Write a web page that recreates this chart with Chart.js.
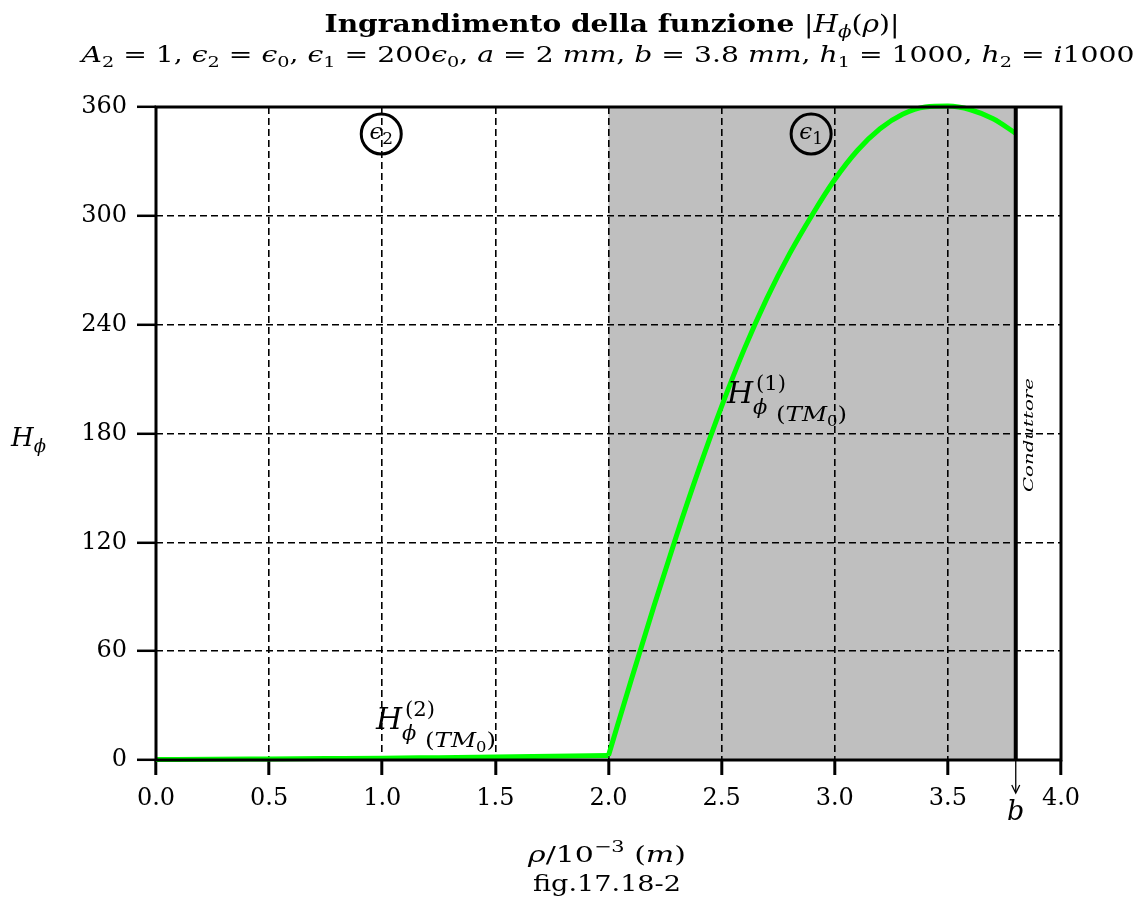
<!DOCTYPE html>
<html><head><meta charset="utf-8">
<script src="https://cdn.jsdelivr.net/npm/chart.js@4/dist/chart.umd.min.js"></script>
<style>html,body{margin:0;padding:0;background:#fff;}#wrap{width:1142px;height:907px;}</style>
</head><body><div id="wrap"><canvas id="c" width="1142" height="907"></canvas></div>
<script>
// ---- data ----
const xTicks = [0, 0.5, 1, 1.5, 2, 2.5, 3, 3.5, 4];
const yTicks = [0, 60, 120, 180, 240, 300, 360];
// region epsilon2 (0 .. a)
const rho2 = [0, 0.25, 0.5, 0.75, 1.0, 1.25, 1.5, 1.75, 2.0];
const h2 = [0.3, 0.4, 0.6, 0.8, 1.0, 1.3, 1.6, 2.0, 2.5];
// region epsilon1 (a .. b)
const rho1 = [2.0, 2.1, 2.2, 2.3, 2.4, 2.5, 2.6, 2.7, 2.8, 2.9, 3.0, 3.1, 3.2, 3.3, 3.4, 3.5, 3.6, 3.7, 3.8];
const h1 = [2.5, 44, 84.5, 123.5, 160.5, 195, 226.5, 254.5, 279, 300.5, 320, 336, 348, 356, 360, 360.5, 358.5, 353.5, 345.5];
const aRadius = 2.0;
const bRadius = 3.8;

const SF = '"DejaVu Serif", serif';
const N = n => `${n}px ${SF}`;
const I = n => `italic ${n}px ${SF}`;
const B = n => `bold ${n}px ${SF}`;

function rich(ctx, segs, x, y, align, target) {
  let w = 0;
  const ms = segs.map(s => { ctx.font = s[1]; const m = ctx.measureText(s[0]).width; w += m; return m; });
  const sx = target ? target / w : 1;
  ctx.save();
  ctx.translate(x, y); ctx.scale(sx, 1);
  let cx = align === 'center' ? -w / 2 : (align === 'right' ? -w : 0);
  ctx.textAlign = 'left'; ctx.textBaseline = 'alphabetic'; ctx.fillStyle = '#000';
  segs.forEach((s, i) => { ctx.font = s[1]; ctx.fillText(s[0], cx, s[2] || 0); cx += ms[i]; });
  ctx.restore();
}

function hLabel(ctx, x, y, sup) {
  // x,y = left / baseline of H
  rich(ctx, [['H', I(30)]], x, y, 'left');
  rich(ctx, [['(' + sup + ')', N(21)]], x + 29, y - 13, 'left', 30);
  rich(ctx, [['ϕ', I(21)]], x + 26, y + 11, 'left');
  rich(ctx, [['(', N(21)], ['TM', I(21)], ['0', N(14), 5], [')', N(21)]], x + 49, y + 18, 'left', 71);
}

const deco = {
  id: 'deco',
  beforeDraw(chart) {
    const { ctx, chartArea: ca, scales: { x } } = chart;
    ctx.save();
    ctx.fillStyle = '#bfbfbf';
    const xa = x.getPixelForValue(aRadius), xb = x.getPixelForValue(bRadius);
    ctx.fillRect(xa, ca.top, xb - xa, ca.bottom - ca.top);
    ctx.restore();
  },
  afterDatasetsDraw(chart) {
    const { ctx, chartArea: ca, scales: { x, y } } = chart;
    ctx.save();
    // frame
    ctx.strokeStyle = '#000'; ctx.lineWidth = 3;
    ctx.strokeRect(ca.left, ca.top, ca.right - ca.left, ca.bottom - ca.top);
    // conductor line
    const xb = x.getPixelForValue(bRadius);
    ctx.lineWidth = 4;
    ctx.beginPath(); ctx.moveTo(xb, ca.top); ctx.lineTo(xb, ca.bottom); ctx.stroke();
    // arrow
    ctx.lineWidth = 1.3;
    ctx.beginPath(); ctx.moveTo(xb, ca.bottom); ctx.lineTo(xb, ca.bottom + 32); ctx.stroke();
    ctx.beginPath(); ctx.moveTo(xb - 4, ca.bottom + 25); ctx.lineTo(xb, ca.bottom + 33); ctx.lineTo(xb + 4, ca.bottom + 25); ctx.stroke();
    rich(ctx, [['b', I(27)]], xb, ca.bottom + 60, 'center');
    // circles
    ctx.lineWidth = 3;
    [[1.0, '2'], [2.9, '1']].forEach(([cv, sub]) => {
      const cx = x.getPixelForValue(cv) - 1, cy = 134;
      ctx.beginPath(); ctx.arc(cx, cy, 20, 0, Math.PI * 2); ctx.stroke();
      rich(ctx, [['ϵ', I(23)], [sub, N(17), 5]], cx, cy + 5, 'center');
    });
    // curve labels
    hLabel(ctx, 727, 403, '1');
    hLabel(ctx, 376, 729, '2');
    // Conduttore
    ctx.save();
    ctx.translate(1033, 435); ctx.rotate(-Math.PI / 2);
    rich(ctx, [['Conduttore', I(13)]], 0, 0, 'center', 114);
    ctx.restore();
    ctx.restore();
  },
  afterDraw(chart) {
    const ctx = chart.ctx;
    rich(ctx, [['Ingrandimento della funzione ', B(24)], ['|', N(24)], ['H', I(24)], ['ϕ', I(17), 5], ['(', N(24)], ['ρ', I(24)], [')|', N(24)]], 612, 32, 'center', 575);
    const s = 15, n = 22;
    rich(ctx, [
      ['A', I(n)], ['2', N(s), 5], [' = 1, ', N(n)],
      ['ϵ', I(n)], ['2', N(s), 5], [' = ', N(n)], ['ϵ', I(n)], ['0', N(s), 5], [', ', N(n)],
      ['ϵ', I(n)], ['1', N(s), 5], [' = 200', N(n)], ['ϵ', I(n)], ['0', N(s), 5], [', ', N(n)],
      ['a', I(n)], [' = 2 ', N(n)], ['mm', I(n)], [', ', N(n)],
      ['b', I(n)], [' = 3.8 ', N(n)], ['mm', I(n)], [', ', N(n)],
      ['h', I(n)], ['1', N(s), 5], [' = 1000, ', N(n)],
      ['h', I(n)], ['2', N(s), 5], [' = ', N(n)], ['i', I(n)], ['1000', N(n)]
    ], 608, 62, 'center', 1053);
    // y title
    rich(ctx, [['H', I(26)], ['ϕ', I(18), 6]], 11, 446, 'left');
    // x title
    rich(ctx, [['ρ', I(23)], ['/10', N(23)], ['−3', N(16), -10], [' (', N(23)], ['m', I(23)], [')', N(23)]], 607, 862, 'center', 158);
    rich(ctx, [['fig.17.18-2', N(23)]], 607, 891, 'center', 148);
  }
};

const tickFont = { family: '"DejaVu Serif", serif', size: 24 };

new Chart(document.getElementById('c'), {
  type: 'line',
  data: {
    datasets: [
      { data: rho2.map((v, i) => ({ x: v, y: h2[i] })), borderColor: '#00ff00', borderWidth: 5, pointRadius: 0, cubicInterpolationMode: 'monotone', clip: 6 },
      { data: rho1.map((v, i) => ({ x: v, y: h1[i] })), borderColor: '#00ff00', borderWidth: 5, pointRadius: 0, cubicInterpolationMode: 'monotone', clip: 6 }
    ]
  },
  options: {
    responsive: false, animation: false, devicePixelRatio: 1,
    layout: { padding: { left: 0, right: 81, top: 107, bottom: 0 } },
    plugins: { legend: { display: false }, title: { display: false }, tooltip: { enabled: false } },
    scales: {
      x: {
        type: 'linear', min: 0, max: 4,
        afterBuildTicks: s => { s.ticks = xTicks.map(v => ({ value: v })); },
        afterFit: s => { s.height = 147; },
        ticks: { color: '#000', font: tickFont, padding: 9, maxRotation: 0, autoSkip: false, callback: v => v.toFixed(1) },
        grid: { color: '#000', lineWidth: 1.6, tickLength: 15, tickWidth: 3, tickColor: '#000' },
        border: { display: false, dash: [7, 4] }
      },
      y: {
        min: 0, max: 360,
        afterBuildTicks: s => { s.ticks = yTicks.map(v => ({ value: v })); },
        afterFit: s => { s.width = 156; },
        ticks: { color: '#000', font: tickFont, padding: 10, autoSkip: false, callback: v => String(v) },
        grid: { color: '#000', lineWidth: 1.6, tickLength: 19, tickWidth: 2.5, tickColor: '#000' },
        border: { display: false, dash: [7, 4] }
      }
    }
  },
  plugins: [deco]
});
</script></body></html>
